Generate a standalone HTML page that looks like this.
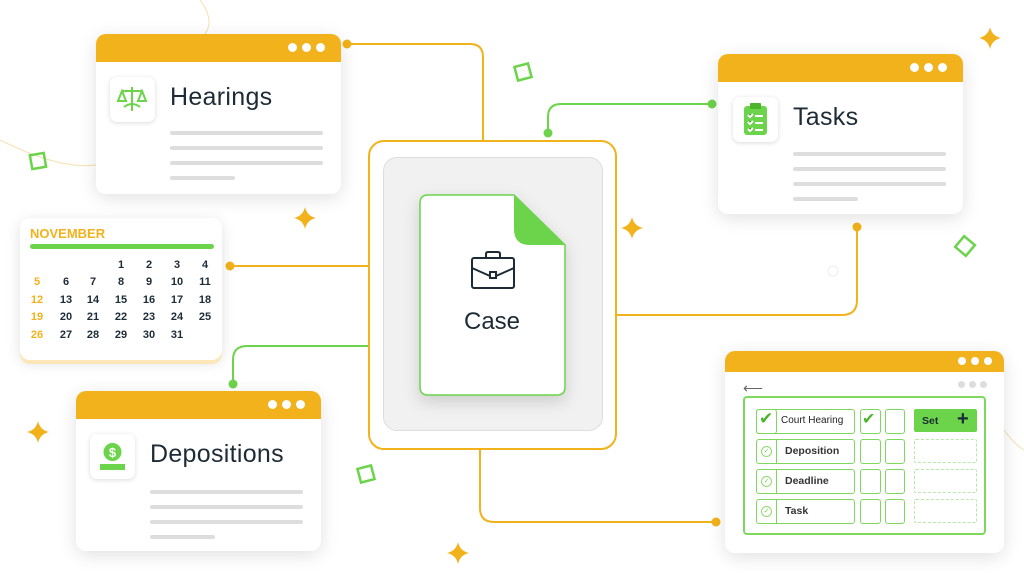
<!DOCTYPE html>
<html><head><meta charset="utf-8"><style>
*{margin:0;padding:0;box-sizing:border-box}
body{width:1024px;height:587px;background:#fff;position:relative;overflow:hidden;font-family:"Liberation Sans",sans-serif;color:#1c2b36}
.abs{position:absolute}
.card{position:absolute;background:#fff;border-radius:10px;box-shadow:0 4px 18px rgba(0,0,0,.12);overflow:hidden}
.hdr{position:absolute;left:0;top:0;right:0;background:#F2B21B}
.dots{position:absolute;right:16px;display:flex;gap:5px}
.dots i{width:9px;height:9px;border-radius:50%;background:#fff;display:block}
.icon{position:absolute;width:45px;height:45px;border-radius:7px;background:#fff;box-shadow:0 1px 5px rgba(0,0,0,.15)}
.title{position:absolute;font-size:25px;letter-spacing:.3px}
.ln{position:absolute;height:4px;background:#ddd;border-radius:2px}
.cal{position:absolute;font-size:11px;font-weight:bold;text-align:center;width:20px}
.row{position:absolute;height:25px;border:1.5px solid #7fd85e;border-radius:3px;background:#fff}
.rt{position:absolute;font-size:10.5px;font-weight:bold;color:#333;white-space:nowrap}
</style></head><body>
<svg class="abs" style="left:0;top:0" width="1024" height="587">
<g fill="none" stroke-width="2">
<path d="M347 44 H470 Q483 44 483 57 V140" stroke="#F2B21B"/>
<path d="M712 104 H561 Q548 104 548 117 V133" stroke="#6CD44A"/>
<path d="M857 227 V300 Q857 315 842 315 H617" stroke="#F2B21B"/>
<path d="M230 266 H368" stroke="#F2B21B"/>
<path d="M233 384 V360 Q233 346 247 346 H368" stroke="#6CD44A"/>
<path d="M480 450 V508 Q480 522 494 522 H716" stroke="#F2B21B"/>
<path d="M0 140 Q60 170 96 165" stroke="#f6dfae" stroke-width="1"/>
<path d="M200 0 Q215 20 205 34" stroke="#f6dfae" stroke-width="1"/>
<path d="M1004 430 Q1015 445 1024 450" stroke="#f6dfae" stroke-width="1"/>
</g>
<g fill="#F2B21B">
<circle cx="347" cy="44" r="4.5"/><circle cx="857" cy="227" r="4.5"/><circle cx="230" cy="266" r="4.5"/><circle cx="716" cy="522" r="4.5"/>
</g>
<g fill="#6CD44A"><circle cx="712" cy="104" r="4.5"/><circle cx="548" cy="133" r="4.5"/><circle cx="233" cy="384" r="4.5"/></g>
<g fill="#F2B21B">
<path d="M305 207 Q307 216 316 218 Q307 220 305 229 Q303 220 294 218 Q303 216 305 207Z"/>
<path d="M632 217 Q634 226 643 228 Q634 230 632 239 Q630 230 621 228 Q630 226 632 217Z"/>
<path d="M990 27 Q992 36 1001 38 Q992 40 990 49 Q988 40 979 38 Q988 36 990 27Z"/>
<path d="M38 421 Q40 430 49 432 Q40 434 38 443 Q36 434 27 432 Q36 430 38 421Z"/>
<path d="M458 542 Q460 551 469 553 Q460 555 458 564 Q456 555 447 553 Q456 551 458 542Z"/>
</g>
<g fill="none" stroke="#6CD44A" stroke-width="2.5">
<rect x="516" y="65" width="14" height="14" transform="rotate(-15 523 72)"/>
<rect x="31" y="154" width="14" height="14" transform="rotate(-10 38 161)"/>
<rect x="958" y="239" width="14" height="14" transform="rotate(40 965 246)"/>
<rect x="359" y="467" width="14" height="14" transform="rotate(-15 366 474)"/>
</g>
<circle cx="833" cy="271" r="5" fill="none" stroke="#eee"/>
</svg>

<div class="abs" style="left:368px;top:140px;width:249px;height:310px;border:2px solid #F2B21B;border-radius:16px;background:#fff"></div>
<div class="abs" style="left:383px;top:157px;width:220px;height:274px;border:1.5px solid #ddd;border-radius:14px;background:#f1f1f1"></div>
<svg class="abs" style="left:410px;top:188px;filter:drop-shadow(0 6px 8px rgba(0,0,0,.15))" width="165" height="215">
<path d="M16 7 H104 L155 57 V199 Q155 207 147 207 H18 Q10 207 10 199 V15 Q10 7 18 7Z" fill="#fff" stroke="#6CD44A" stroke-width="1.5"/>
<path d="M104 7 L155 57 H120 Q104 57 104 41Z" fill="#6CD44A"/>
<g fill="none" stroke="#1c2b36" stroke-width="2">
<rect x="62" y="70" width="42" height="30" rx="2"/>
<path d="M62 80 L80 88 M104 80 L86 88"/>
<rect x="80" y="84" width="6" height="6"/>
<path d="M76 70 V66 Q76 64 78 64 H88 Q90 64 90 66 V70"/>
</g>
<text x="82" y="141" font-size="24" text-anchor="middle" fill="#1c2b36" font-family="Liberation Sans">Case</text>
</svg>

<div class="card" style="left:96px;top:34px;width:245px;height:160px">
<div class="hdr" style="height:28px"><div class="dots" style="top:9px"><i></i><i></i><i></i></div></div>
<div class="icon" style="left:14px;top:43px"><svg width="45" height="45"><g fill="none" stroke="#6CD44A" stroke-width="2"><path d="M22 10V34M12 14H32M12 14L8 24H16ZM32 14L28 24H36Z"/><path d="M14 30Q22 24 30 30" /></g></svg></div>
<div class="title" style="left:74px;top:49px">Hearings</div>
<div class="ln" style="left:74px;top:97px;width:153px"></div>
<div class="ln" style="left:74px;top:112px;width:153px"></div>
<div class="ln" style="left:74px;top:127px;width:153px"></div>
<div class="ln" style="left:74px;top:142px;width:65px"></div>
</div>

<div class="card" style="left:718px;top:54px;width:245px;height:160px">
<div class="hdr" style="height:28px"><div class="dots" style="top:9px"><i></i><i></i><i></i></div></div>
<div class="icon" style="left:15px;top:43px"><svg width="45" height="45"><rect x="11" y="9" width="23" height="29" rx="3" fill="#6CD44A"/><rect x="17" y="6" width="11" height="6" rx="1" fill="#4cb52c"/><g stroke="#fff" stroke-width="2"><path d="M15 18l2 2 3-3M22 19H30M15 25l2 2 3-3M22 26H30M15 32l2 2 3-3M22 33H30"/></g></svg></div>
<div class="title" style="left:75px;top:49px">Tasks</div>
<div class="ln" style="left:75px;top:98px;width:153px"></div>
<div class="ln" style="left:75px;top:113px;width:153px"></div>
<div class="ln" style="left:75px;top:128px;width:153px"></div>
<div class="ln" style="left:75px;top:143px;width:65px"></div>
</div>

<div class="card" style="left:76px;top:391px;width:245px;height:160px">
<div class="hdr" style="height:28px"><div class="dots" style="top:9px"><i></i><i></i><i></i></div></div>
<div class="icon" style="left:14px;top:43px"><svg width="45" height="45"><circle cx="22.5" cy="18" r="9" fill="#6CD44A"/><text x="22.5" y="23" font-size="13" font-weight="bold" text-anchor="middle" fill="#fff">$</text><path d="M10 30H35V36H10Z" fill="#6CD44A"/></svg></div>
<div class="title" style="left:74px;top:49px">Depositions</div>
<div class="ln" style="left:74px;top:99px;width:153px"></div>
<div class="ln" style="left:74px;top:114px;width:153px"></div>
<div class="ln" style="left:74px;top:129px;width:153px"></div>
<div class="ln" style="left:74px;top:144px;width:65px"></div>
</div>

<div class="abs" style="left:20px;top:218px;width:202px;height:142px;border-radius:10px;background:#fff;box-shadow:0 4px 0 #fbe7b8,0 3px 14px rgba(0,0,0,.12)">
<div class="abs" style="left:10px;top:8px;font-size:13px;font-weight:bold;color:#F2B21B">NOVEMBER</div>
<div class="abs" style="left:10px;top:26px;width:184px;height:5px;border-radius:3px;background:#6CD44A"></div>
</div>
<div id="cal"></div>
<script>
var xs=[37,66,93,121,149,177,205],ys=[266,283,301,318,336],h='';
var d=1;
for(var r=0;r<5;r++){for(var c=0;c<7;c++){if(r==0&&c<3)continue;if(d>31)break;
h+='<div class="cal" style="left:'+(xs[c]-10)+'px;top:'+(ys[r]-7)+'px;color:'+(c==0?'#F2B21B':'#1c2b36')+'">'+d+'</div>';d++;}}
document.getElementById('cal').innerHTML=h;
</script>

<div class="card" style="left:725px;top:351px;width:279px;height:202px">
<div class="hdr" style="height:21px"><div class="dots" style="top:6px;right:12px"><i style="width:8px;height:8px"></i><i style="width:8px;height:8px"></i><i style="width:8px;height:8px"></i></div></div>
<div class="abs" style="left:18px;top:29px;font-size:14px;color:#666">⟵</div>
<div class="dots" style="top:30px;right:17px;gap:4px"><i style="background:#ddd;width:7px;height:7px"></i><i style="background:#ddd;width:7px;height:7px"></i><i style="background:#ddd;width:7px;height:7px"></i></div>
<div class="abs" style="left:18px;top:45px;width:243px;height:139px;border:2px solid #7fd85e;border-radius:4px"></div>
</div>
<div class="abs" style="left:0;top:0">
<div class="row" style="left:756px;top:409px;width:99px"></div>
<div class="abs" style="left:756px;top:409px;width:21px;height:25px;border:1.5px solid #7fd85e;border-radius:3px"></div>
<div class="abs" style="left:759px;top:409px;font-size:17px;color:#4cb52c">✔</div>
<div class="rt" style="left:781px;top:415px;font-weight:normal;color:#222;font-size:10px">Court Hearing</div>
<div class="row" style="left:860px;top:409px;width:21px"></div><div class="abs" style="left:862px;top:409px;font-size:16px;color:#4cb52c">✔</div>
<div class="row" style="left:885px;top:409px;width:20px"></div>
<div class="abs" style="left:914px;top:409px;width:63px;height:23px;background:#6CD44A;border-radius:2px"></div>
<div class="rt" style="left:922px;top:415px;color:#1c2b36">Set</div>
<div class="abs" style="left:957px;top:408px;font-size:20px;font-weight:bold;color:#1c2b36">+</div>
</div>
<div id="rows"></div>
<script>
var n=['Deposition','Deadline','Task'],t=[439,469,499],s='';
for(var i=0;i<3;i++){var y=t[i];
s+='<div class="row" style="left:756px;top:'+y+'px;width:99px"></div><div class="abs" style="left:756px;top:'+y+'px;width:21px;height:25px;border-right:1.5px solid #7fd85e"></div>';
s+='<div class="abs" style="left:761px;top:'+(y+7)+'px;width:11px;height:11px;border:1px solid #8fd870;border-radius:50%;font-size:7px;color:#6CD44A;text-align:center;line-height:10px">✓</div>';
s+='<div class="rt" style="left:785px;top:'+(y+6)+'px">'+n[i]+'</div>';
s+='<div class="row" style="left:860px;top:'+y+'px;width:21px"></div><div class="row" style="left:885px;top:'+y+'px;width:20px"></div>';
s+='<div class="abs" style="left:914px;top:'+y+'px;width:63px;height:24px;border:1px dashed #b8e8a6;border-radius:2px"></div>';}
document.getElementById('rows').innerHTML=s;
</script>
</body></html>
